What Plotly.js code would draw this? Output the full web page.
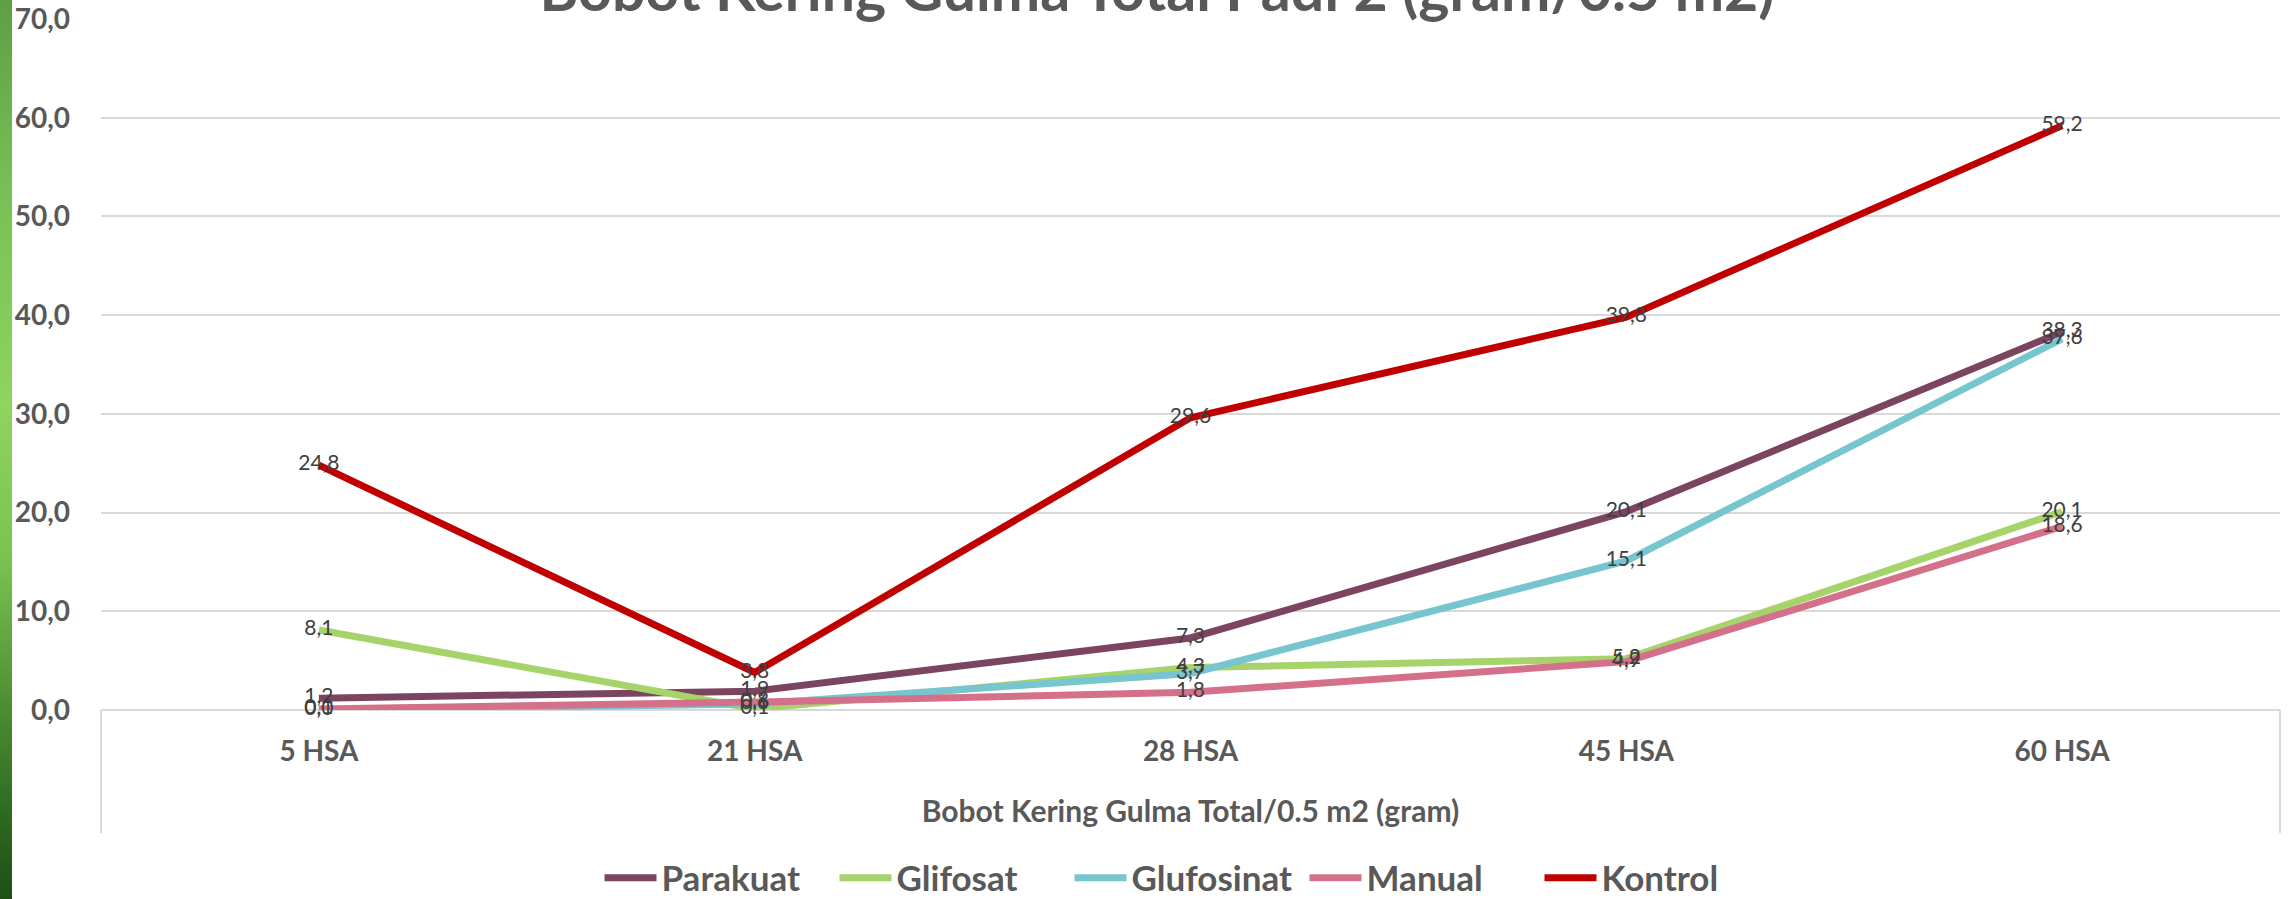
<!DOCTYPE html>
<html>
<head>
<meta charset="utf-8">
<script src="https://cdn.plot.ly/plotly-3.0.1.min.js"></script>
<style>
  html, body { margin: 0; padding: 0; background: #ffffff; }
  #wrap { position: relative; width: 2288px; height: 899px; overflow: hidden; }
  #leaf {
    position: absolute; left: 0; top: 0; width: 12px; height: 899px; z-index: 2;
    background: linear-gradient(180deg, #5f9e45 0%, #77be55 20%, #8fd45f 45%, #7cc253 62%, #4f8f33 78%, #2f6b22 90%, #1f4f17 100%);
  }
  #chart { position: absolute; left: 0; top: 0; width: 2288px; height: 899px; }
</style>
</head>
<body>
<div id="wrap">
  <div id="chart"></div>
  <div id="leaf"></div>
</div>
<script>
// Sampling times (days after application)
const categories = ["5 HSA", "21 HSA", "28 HSA", "45 HSA", "60 HSA"];

// Total weed dry weight per treatment (gram / 0.5 m2)
const parakuat   = [1.2, 1.9, 7.3, 20.1, 38.3];
const glifosat   = [8.1, 0.1, 4.3, 5.2, 20.1];
const glufosinat = [0.0, 0.6, 3.7, 15.1, 37.6];
const manual     = [0.1, 0.8, 1.8, 4.9, 18.6];
const kontrol    = [24.8, 3.8, 29.6, 39.8, 59.2];

const seriesNames = ["Parakuat", "Glifosat", "Glufosinat", "Manual", "Kontrol"];
const seriesData  = [parakuat, glifosat, glufosinat, manual, kontrol];
const seriesColors = ["#7B455F", "#A6D46A", "#77C5CF", "#D5708B", "#C00000"];

const yTicks = [0, 10, 20, 30, 40, 50, 60, 70];

const FONT = "Lato, 'Open Sans', sans-serif";

// Lines first, then the value labels on top of every line
const lineTraces = seriesData.map((vals, i) => ({
  type: "scatter",
  mode: "lines",
  name: seriesNames[i],
  x: categories,
  y: vals,
  line: { color: seriesColors[i], width: 7 },
  hoverinfo: "x+y+name"
}));

const labelTraces = seriesData.map((vals, i) => ({
  type: "scatter",
  mode: "text",
  name: seriesNames[i],
  showlegend: false,
  x: categories,
  y: vals,
  texttemplate: "%{y:.1f}",
  textposition: "middle center",
  textfont: { family: FONT, size: 21, color: "#404040" },
  cliponaxis: false,
  hoverinfo: "skip"
}));

const layout = {
  width: 2288,
  height: 899,
  separators: ",.",
  paper_bgcolor: "#ffffff",
  plot_bgcolor: "#ffffff",
  margin: { l: 101, r: 8, t: 19, b: 189, pad: 0 },
  font: { family: FONT, color: "#595959" },
  title: {
    text: "Bobot Kering Gulma Total Padi 2 (gram/0.5 m2)",
    x: 0.5057,
    xanchor: "center",
    y: 1 - 11 / 899,
    yanchor: "bottom",
    font: { family: FONT, size: 59, weight: 700, color: "#595959" }
  },
  xaxis: {
    type: "category",
    categoryorder: "array",
    categoryarray: categories,
    range: [-0.5, 4.5],
    showgrid: false,
    showline: false,
    zeroline: false,
    ticks: "",
    ticklabelstandoff: 22,
    tickfont: { family: FONT, size: 28, weight: 700, color: "#595959" },
    title: {
      text: "Bobot Kering Gulma Total/0.5 m2 (gram)",
      standoff: 34,
      font: { family: FONT, size: 30, weight: 700, color: "#595959" }
    },
    automargin: false
  },
  yaxis: {
    range: [0, 70],
    tickvals: yTicks,
    tickformat: ".1f",
    showgrid: true,
    gridcolor: "#D9D9D9",
    gridwidth: 2,
    zeroline: true,
    zerolinecolor: "#D9D9D9",
    zerolinewidth: 2,
    showline: false,
    ticks: "",
    ticklabelstandoff: 30,
    tickfont: { family: FONT, size: 28, weight: 700, color: "#595959" },
    automargin: false
  },
  legend: {
    orientation: "h",
    xref: "container",
    yref: "container",
    x: 1187 / 2288,
    xanchor: "center",
    y: 21 / 899,
    yanchor: "middle",
    itemwidth: 52,
    entrywidth: 168,
    entrywidthmode: "pixels",
    font: { family: FONT, size: 35, weight: 700, color: "#595959" },
    bgcolor: "rgba(0,0,0,0)"
  },
  shapes: [
    // frame edges of the category band under the plot
    { type: "line", xref: "paper", yref: "paper", x0: 0, x1: 0, y0: 0, y1: -0.178,
      line: { color: "#D9D9D9", width: 2 } },
    { type: "line", xref: "paper", yref: "paper", x0: 1, x1: 1, y0: 0, y1: -0.178,
      line: { color: "#D9D9D9", width: 2 } }
  ],
  showlegend: true
};

Plotly.newPlot("chart", lineTraces.concat(labelTraces), layout, { displayModeBar: false, staticPlot: true });
</script>
</body>
</html>
